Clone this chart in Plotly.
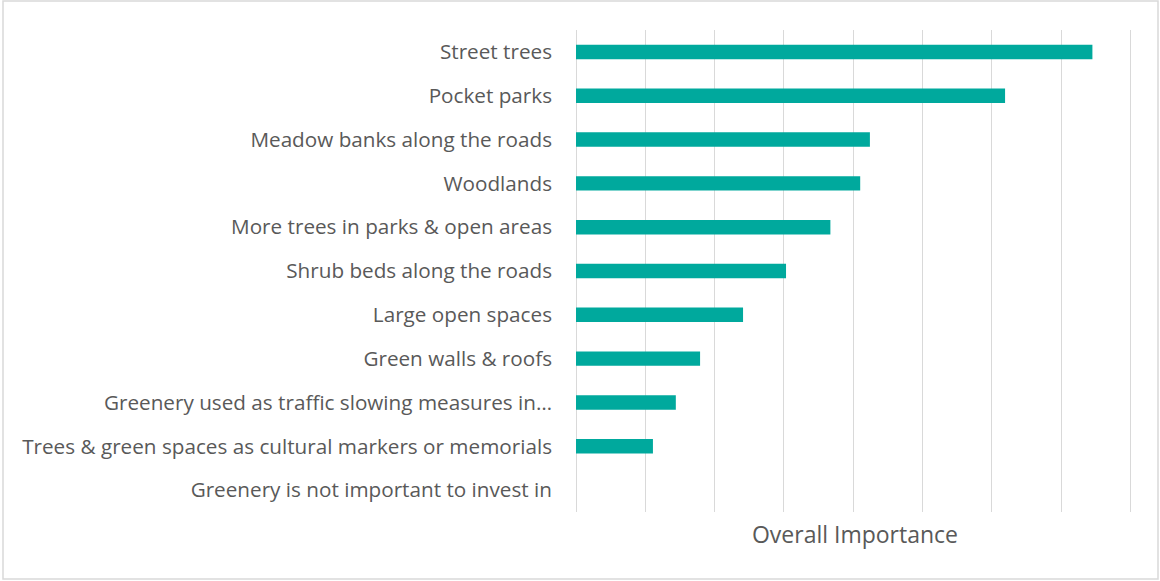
import plotly.graph_objects as go

categories = [
    "Street trees",
    "Pocket parks",
    "Meadow banks along the roads",
    "Woodlands",
    "More trees in parks & open areas",
    "Shrub beds along the roads",
    "Large open spaces",
    "Green walls & roofs",
    "Greenery used as traffic slowing measures in…",
    "Trees & green spaces as cultural markers or memorials",
    "Greenery is not important to invest in",
]
values = [7.45, 6.19, 4.24, 4.10, 3.67, 3.03, 2.41, 1.79, 1.44, 1.11, 0.0]

W, H = 1160, 581
L, R, T, B = 576, 26, 30, 69
pw, ph = W - L - R, H - T - B

fig = go.Figure(go.Bar(
    x=values, y=categories, orientation="h",
    marker=dict(color="#00A99D", line=dict(width=0)),
    width=0.33,
))

fig.update_layout(
    width=W, height=H,
    margin=dict(l=L, r=R, t=T, b=B),
    paper_bgcolor="white", plot_bgcolor="white",
    showlegend=False,
    font=dict(family="Open Sans, Lato, sans-serif", color="#595959"),
    xaxis=dict(
        range=[0, 8.05], dtick=1, tick0=0, showticklabels=False,
        showgrid=True, gridcolor="#D9D9D9", gridwidth=1.3,
        zeroline=True, zerolinecolor="#D9D9D9", zerolinewidth=1.3,
        title=dict(text="Overall Importance", font=dict(size=23, color="#595959"), standoff=14),
        fixedrange=True,
    ),
    yaxis=dict(
        autorange="reversed", showgrid=False, zeroline=False,
        tickfont=dict(size=20.7, color="#595959"),
        ticks="", ticklabelstandoff=23,
    ),
    shapes=[dict(
        type="rect", xref="paper", yref="paper",
        x0=(3 - L) / pw, x1=(W - 2 - L) / pw,
        y0=(T + ph - (H - 2)) / ph, y1=(T + ph - 1) / ph,
        line=dict(color="#D9D9D9", width=1.5), fillcolor="rgba(0,0,0,0)",
        layer="below",
    )],
)

fig.write_html(
    "out.html",
    config={"displayModeBar": False},
    post_script="document.body.style.margin='0';document.body.style.overflow='hidden';",
)
